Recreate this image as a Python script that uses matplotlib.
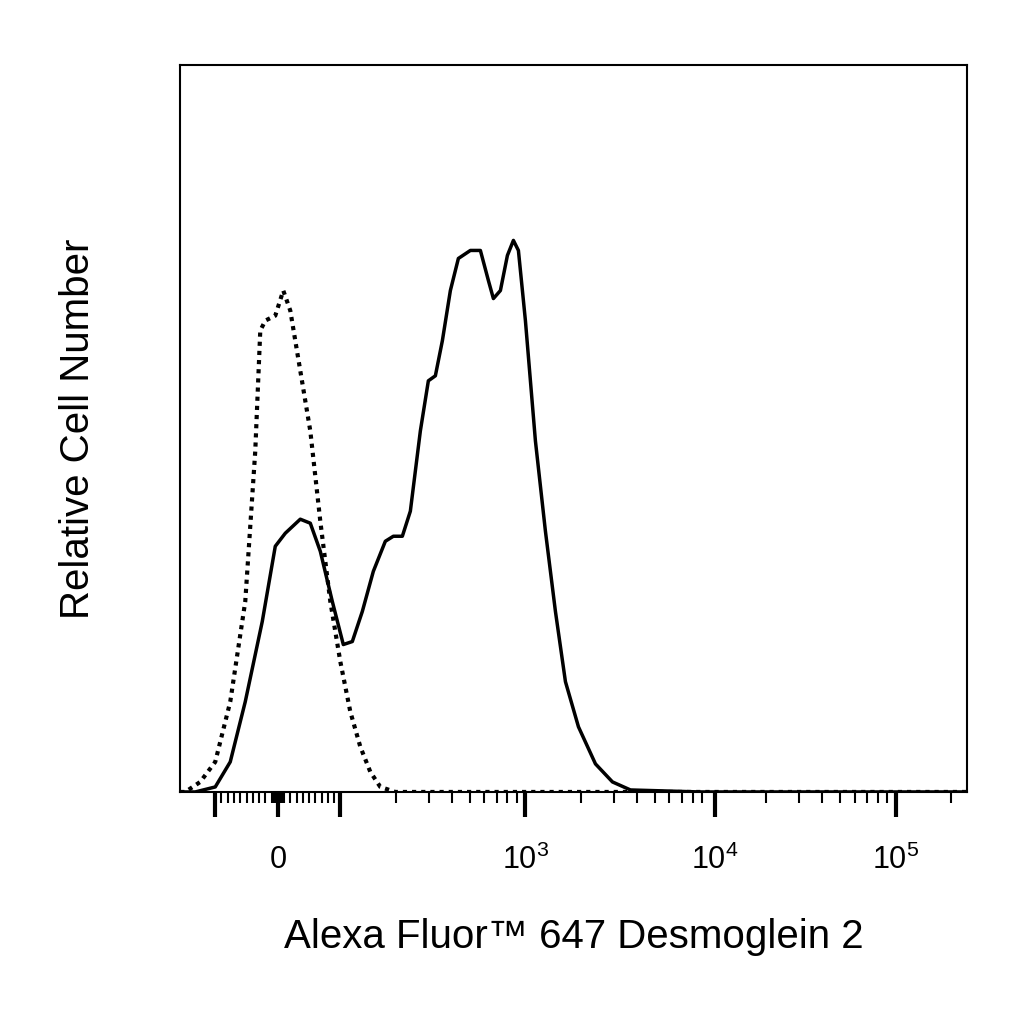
import numpy as np
import matplotlib
matplotlib.use("Agg")
import matplotlib.pyplot as plt

# x in display channel units (biexponential scale rendered linearly), y = relative counts
solid_x = [180,195,215,230,245,262,275,285,300,310,320,332,343,352,362,373,385,393,402,410,420,428,435,442,450,458,470,480,488,493,500,507,513,518,525,535,545,555,565,578,595,612,630,700,966]
solid_y = [0,0,5,30,90,170,245,258,272,268,240,190,147,150,180,220,250,255,255,280,360,410,415,450,500,532,540,540,510,492,500,535,550,540,470,350,260,180,110,65,28,10,2,0,0]
dot_x = [180,185,200,215,230,245,255,260,265,275,283,290,300,310,320,330,340,350,360,370,380,395,966]
dot_y = [0,0,10,30,90,190,340,460,470,475,500,480,420,360,270,190,130,80,45,20,5,0,0]

major_pos = [215, 278, 340, 525, 714, 895]
major_lab = ["", "0", "", r"$10^3$", r"$10^4$", r"$10^5$"]

def logpos(v):
    return 340 + 185*np.log10(v/100.0)

minor = list(np.linspace(215, 340, 21))
minor += [278 + d for d in (-4, -2, 2, 4)]
for dec in (100, 1000, 10000, 100000):
    for m in range(2, 10):
        p = logpos(dec*m)
        if p < 960:
            minor.append(p)

plt.rcParams['mathtext.fontset'] = 'custom'
plt.rcParams['mathtext.rm'] = 'Liberation Sans'
plt.rcParams['mathtext.it'] = 'Liberation Sans'

fig = plt.figure(figsize=(10.24, 10.24), dpi=100)
ax = fig.add_axes([0.176, 0.2266, 0.768, 0.71])
ax.plot(solid_x, solid_y, color="black", lw=2.5)
ax.plot(dot_x, dot_y, color="black", lw=3, linestyle=(0, (1, 1.2)))
ax.set_xlim(180, 966)
ax.set_ylim(0, 725)
ax.set_yticks([])
ax.set_xticks(major_pos)
ax.set_xticklabels(major_lab, fontsize=22, family="Liberation Sans")
ax.set_xticks(minor, minor=True)
ax.tick_params(axis="x", which="major", length=18, width=3, pad=20)
ax.tick_params(axis="x", which="minor", length=8, width=1.5)
for s in ax.spines.values():
    s.set_linewidth(1.5)
ax.set_ylabel("Relative Cell Number", fontsize=29, family="Liberation Sans", labelpad=60)
ax.set_xlabel("Alexa Fluor™ 647 Desmoglein 2", fontsize=29, family="Liberation Sans", labelpad=30)
fig.savefig("out.png", dpi=100)
